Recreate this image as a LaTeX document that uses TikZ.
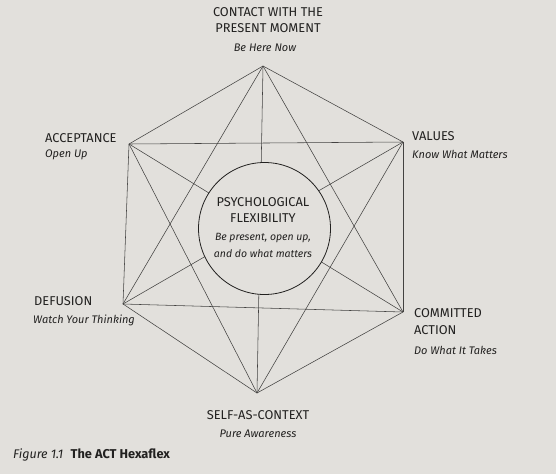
\documentclass[tikz,border=0pt]{standalone}
\usepackage{fontspec}
\setmainfont{Fira Sans}
\usetikzlibrary{positioning,calc}
\definecolor{pg}{HTML}{E2E0DC}
\definecolor{ink}{HTML}{222120}
\tikzset{
    head/.style =   {text=ink,
                    font=\fontsize{12.8}{16}\selectfont,
                    inner sep=0pt,
                    align=center},
    motto/.style =  {text=ink,
                    font=\fontsize{11}{12}\selectfont\itshape,
                    inner sep=0pt},
    hub/.style =    {circle,
                    fill=pg,
                    draw=ink,
                    line width=0.8pt,
                    minimum size=132pt,
                    inner sep=0pt},
    link/.style =   {draw=ink!85,
                    line width=0.55pt},
    x=1pt, y=-1pt}

\begin{document}
\begin{tikzpicture}
        \fill[pg] (0,0) rectangle (556,474);
        \useasboundingbox (0,0) rectangle (556,474);
        % the six corners
        \coordinate (T) at (263,66);
        \coordinate (A) at (129,144);
        \coordinate (V) at (403,142);
        \coordinate (D) at (123,304);
        \coordinate (C) at (403,312);
        \coordinate (S) at (257,393);
        % every corner joined to every other
        \foreach \a/\b in {T/A,T/V,T/D,T/C,T/S,A/V,A/D,A/C,A/S,V/D,V/C,V/S,D/C,D/S,C/S}
                \path [link] (\a) -- (\b);
        % centre
        \node[hub] (P) at (264.5,228.5) {};
        \node[head, anchor=base] (psy)  at (263,206) {PSYCHOLOGICAL};
        \node[head, anchor=base] (flex) at (263,222) {FLEXIBILITY};
        \node[motto, anchor=base, font=\fontsize{10.5}{12}\selectfont\itshape] (bp)  at (263,240) {Be present, open up,};
        \node[motto, anchor=base, font=\fontsize{10.5}{12}\selectfont\itshape] (dw)  at (263,257) {and do what matters};
        % labels
        \node[head, anchor=base] (contact) at (268,16) {CONTACT WITH THE};
        \node[head, anchor=base] (moment)  at (268,32) {PRESENT MOMENT};
        \node[motto, anchor=base] (now)    at (265,51) {Be Here Now};
        \node[head, anchor=base west] (accept)  at (45,142) {ACCEPTANCE};
        \node[motto, anchor=base west] (open)   at (45,157) {Open Up};
        \node[head, anchor=base west] (values)  at (412,140) {VALUES};
        \node[motto, anchor=base west] (know)   at (412,158) {Know What Matters};
        \node[head, anchor=base west] (defuse)  at (34,305) {DEFUSION};
        \node[motto, anchor=base west] (watch)  at (33,323) {Watch Your Thinking};
        \node[head, anchor=base west] (commit)  at (414,317) {COMMITTED};
        \node[head, anchor=base west] (action)  at (414,334) {ACTION};
        \node[motto, anchor=base west] (takes)  at (414,354) {Do What It Takes};
        \node[head, anchor=base] (self)    at (258,419) {SELF-AS-CONTEXT};
        \node[motto, anchor=base] (pure)   at (258,437) {Pure Awareness};
        \node[motto, anchor=base west, font=\fontsize{12.5}{14}\selectfont\itshape] (fig) at (13,458) {Figure 1.1};
        \node[head, anchor=base west, font=\fontsize{12.8}{14}\selectfont\bfseries] (cap) at ($(fig.base east)+(7,0)$) {The ACT Hexaflex};
\end{tikzpicture}
\end{document}
